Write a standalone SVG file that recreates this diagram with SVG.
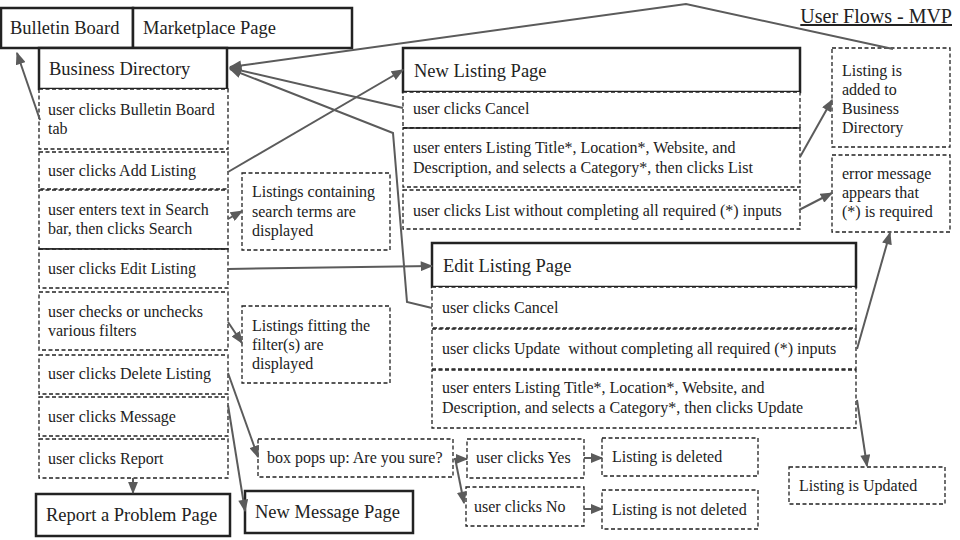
<svg xmlns="http://www.w3.org/2000/svg" width="960" height="540" viewBox="0 0 960 540">
<style>
  text { font-family: "Liberation Serif", "Times New Roman", serif; fill: #222; }
  .t { font-size: 16px; }
  .h { font-size: 18.5px; }
  .page { fill: #fff; stroke: #222; stroke-width: 2.5; }
  .row { fill: #fff; stroke: #222; stroke-width: 1.3; stroke-dasharray: 4 2.5; }
  .solid { stroke: #222; stroke-width: 1.3; }
  .ca { fill: none; stroke: #5b5b5b; stroke-width: 2; marker-end: url(#ah); }
</style>
<defs>
  <marker id="ah" viewBox="0 0 10 8" refX="9" refY="4" markerWidth="13" markerHeight="10" markerUnits="userSpaceOnUse" orient="auto">
    <path d="M0,0 L10,4 L0,8 z" fill="#5b5b5b"/>
  </marker>
</defs>
<rect width="960" height="540" fill="#fff"/>

<g id="title">
  <text x="952" y="23" font-size="20" text-anchor="end" text-decoration="underline">User Flows - MVP</text>
</g>

<g id="bulletin-board">
  <rect class="page" x="1" y="8" width="132" height="40"/>
  <text class="h" x="10" y="34">Bulletin Board</text>
</g>
<g id="marketplace-page">
  <rect class="page" x="133" y="8" width="219" height="40"/>
  <text class="h" x="143" y="34">Marketplace Page</text>
</g>

<g id="business-directory">
  <rect class="page" x="39" y="48" width="188" height="41"/>
  <text class="h" x="49" y="75">Business Directory</text>
</g>
<g id="bd-bulletin-tab">
  <rect class="row" x="39" y="89" width="189" height="60"/>
  <text class="t" x="48" y="115">user clicks Bulletin Board</text>
  <text class="t" x="48" y="134">tab</text>
</g>
<g id="bd-add-listing">
  <rect class="row" x="39" y="152" width="189" height="37"/>
  <text class="t" x="48" y="176">user clicks Add Listing</text>
</g>
<g id="bd-search">
  <rect class="row" x="39" y="190" width="189" height="59"/>
  <text class="t" x="48" y="215">user enters text in Search</text>
  <text class="t" x="48" y="234">bar, then clicks Search</text>
</g>
<g id="bd-edit-listing">
  <rect class="row" x="39" y="249" width="189" height="39"/>
  <line class="solid" x1="39" y1="249" x2="228" y2="249"/>
  <text class="t" x="48" y="274">user clicks Edit Listing</text>
</g>
<g id="bd-filters">
  <rect class="row" x="39" y="292" width="189" height="58"/>
  <text class="t" x="48" y="317">user checks or unchecks</text>
  <text class="t" x="48" y="336">various filters</text>
</g>
<g id="bd-delete">
  <rect class="row" x="39" y="355" width="189" height="39"/>
  <text class="t" x="48" y="379">user clicks Delete Listing</text>
</g>
<g id="bd-message">
  <rect class="row" x="39" y="397" width="189" height="39"/>
  <text class="t" x="48" y="422">user clicks Message</text>
</g>
<g id="bd-report">
  <rect class="row" x="39" y="439" width="189" height="39"/>
  <text class="t" x="48" y="464">user clicks Report</text>
</g>

<g id="report-problem-page">
  <rect class="page" x="36" y="494" width="194" height="42"/>
  <text class="h" x="46" y="521">Report a Problem Page</text>
</g>
<g id="new-message-page">
  <rect class="page" x="245" y="491" width="168" height="42"/>
  <text class="h" x="255" y="518">New Message Page</text>
</g>

<g id="search-result">
  <rect class="row" x="242" y="173" width="148" height="77"/>
  <text class="t" x="252" y="197">Listings containing</text>
  <text class="t" x="252" y="217">search terms are</text>
  <text class="t" x="252" y="236">displayed</text>
</g>
<g id="filter-result">
  <rect class="row" x="242" y="306" width="148" height="77"/>
  <text class="t" x="252" y="331">Listings fitting the</text>
  <text class="t" x="252" y="350">filter(s) are</text>
  <text class="t" x="252" y="369">displayed</text>
</g>

<g id="confirm-box">
  <rect class="row" x="258" y="439" width="195" height="38"/>
  <text class="t" x="267" y="463">box pops up: Are you sure?</text>
</g>
<g id="clicks-yes">
  <rect class="row" x="467" y="439" width="117" height="39"/>
  <text class="t" x="476" y="463">user clicks Yes</text>
</g>
<g id="listing-deleted">
  <rect class="row" x="602" y="438" width="156" height="38"/>
  <text class="t" x="612" y="462">Listing is deleted</text>
</g>
<g id="clicks-no">
  <rect class="row" x="466" y="487" width="118" height="39"/>
  <text class="t" x="474" y="512">user clicks No</text>
</g>
<g id="listing-not-deleted">
  <rect class="row" x="602" y="490" width="156" height="39"/>
  <text class="t" x="612" y="515">Listing is not deleted</text>
</g>

<g id="new-listing-page">
  <rect class="page" x="403" y="48" width="397" height="44"/>
  <text class="h" x="414" y="77">New Listing Page</text>
</g>
<g id="nl-cancel">
  <rect class="row" x="403" y="92" width="397" height="36"/>
  <text class="t" x="413" y="114">user clicks Cancel</text>
</g>
<g id="nl-enter">
  <rect class="row" x="403" y="128" width="397" height="59"/>
  <line class="solid" x1="403" y1="128" x2="800" y2="128"/>
  <text class="t" x="413" y="153">user enters Listing Title*, Location*, Website, and</text>
  <text class="t" x="413" y="173">Description, and selects a Category*, then clicks List</text>
</g>
<g id="nl-incomplete">
  <rect class="row" x="403" y="190" width="397" height="39"/>
  <text class="t" x="413" y="216">user clicks List without completing all required (*) inputs</text>
</g>

<g id="listing-added">
  <rect class="row" x="832" y="48" width="118" height="99"/>
  <text class="t" x="842" y="76">Listing is</text>
  <text class="t" x="842" y="95">added to</text>
  <text class="t" x="842" y="114">Business</text>
  <text class="t" x="842" y="133">Directory</text>
</g>
<g id="error-message">
  <rect class="row" x="832" y="155" width="118" height="77"/>
  <text class="t" x="842" y="179">error message</text>
  <text class="t" x="842" y="198">appears that</text>
  <text class="t" x="842" y="217">(*) is required</text>
</g>

<g id="edit-listing-page">
  <rect class="page" x="432" y="243" width="424" height="44"/>
  <text class="h" x="443" y="272">Edit Listing Page</text>
</g>
<g id="el-cancel">
  <rect class="row" x="432" y="287" width="424" height="41"/>
  <text class="t" x="442" y="313">user clicks Cancel</text>
</g>
<g id="el-incomplete">
  <rect class="row" x="432" y="329" width="424" height="40"/>
  <text class="t" x="442" y="354" xml:space="preserve">user clicks Update  without completing all required (*) inputs</text>
</g>
<g id="el-enter">
  <rect class="row" x="432" y="370" width="424" height="58"/>
  <text class="t" x="442" y="393">user enters Listing Title*, Location*, Website, and</text>
  <text class="t" x="442" y="413">Description, and selects a Category*, then clicks Update</text>
</g>
<g id="listing-updated">
  <rect class="row" x="789" y="467" width="156" height="37"/>
  <text class="t" x="799" y="491">Listing is Updated</text>
</g>

<g id="connectors">
  <path class="ca" d="M40,120 L17,53"/>
  <path class="ca" d="M228,172 L403,70"/>
  <path class="ca" d="M403,108 L230,68"/>
  <path class="ca" d="M893,49 L686,4 L230,67"/>
  <path class="ca" d="M432,308 L407,302 L393,133 L230,69"/>
  <path class="ca" d="M228,269 L432,266"/>
  <path class="ca" d="M800,157 L832,100"/>
  <path class="ca" d="M799,210 L832,193"/>
  <path class="ca" d="M857,349 L890,233"/>
  <path class="ca" d="M857,400 L867,466"/>
  <path class="ca" d="M228,219 L242,211"/>
  <path class="ca" d="M228,322 L242,343"/>
  <path class="ca" d="M228,373 L258,457"/>
  <path class="ca" d="M228,405 L245,511"/>
  <path class="ca" d="M133,478 L133,493"/>
  <path class="ca" d="M454,459 L467,459"/>
  <path class="ca" d="M455,458 L464,503"/>
  <path class="ca" d="M584,458 L602,458"/>
  <path class="ca" d="M584,509 L602,509"/>
</g>
</svg>
